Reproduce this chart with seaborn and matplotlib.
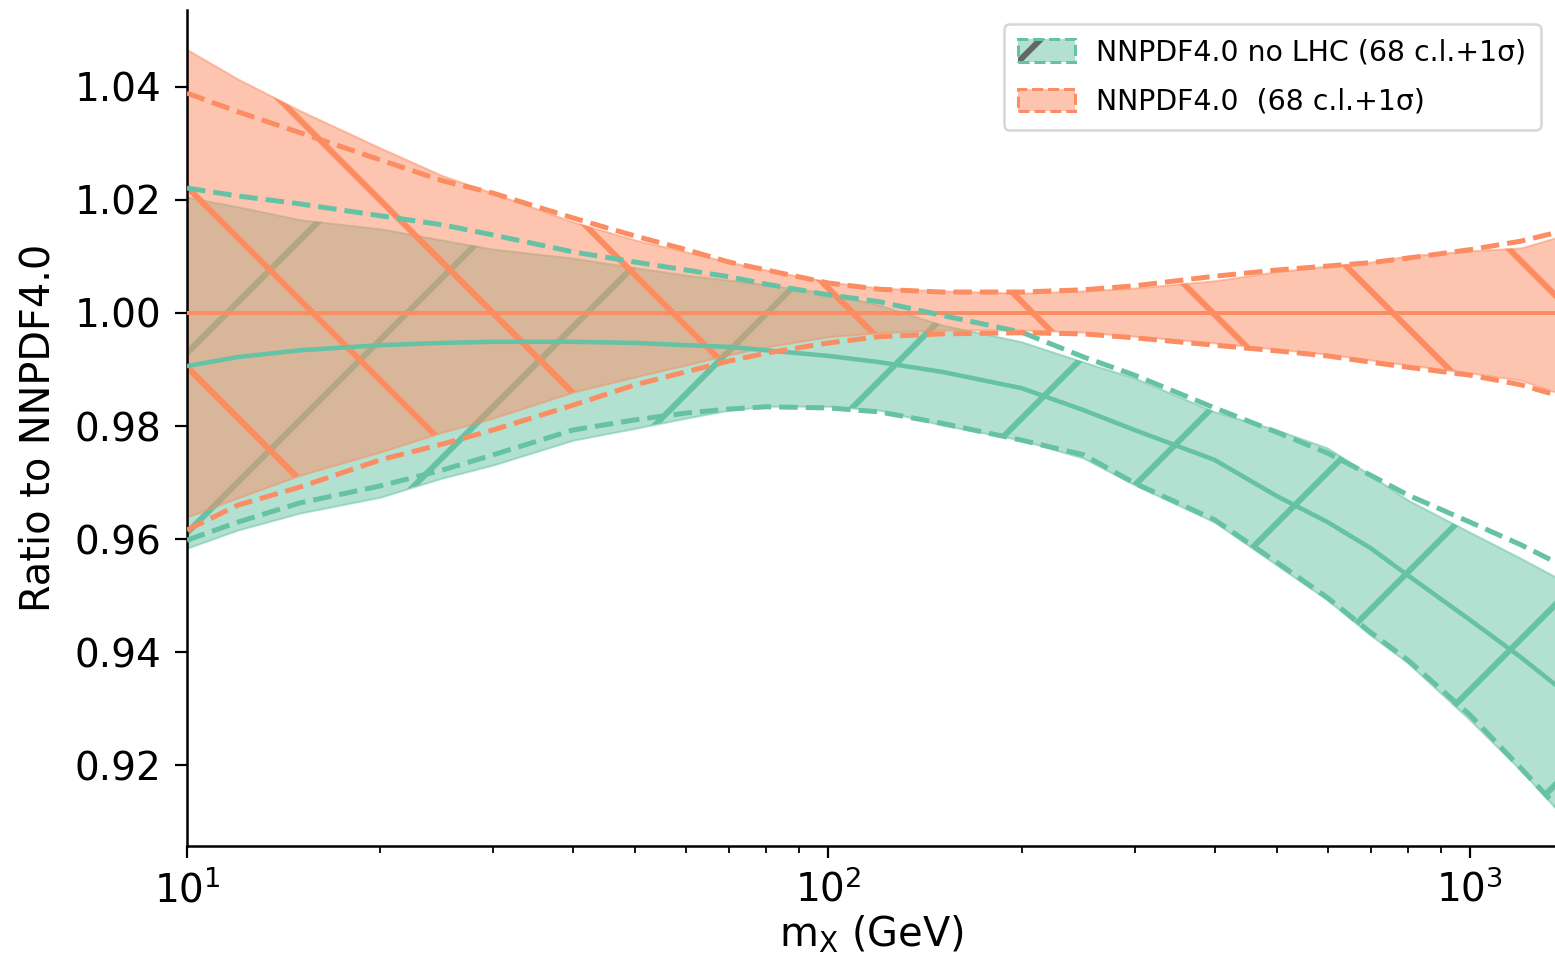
import numpy as np
import pandas as pd
import matplotlib
matplotlib.use("Agg")
import matplotlib.pyplot as plt
from matplotlib.patches import Patch
from matplotlib.legend_handler import HandlerTuple
import seaborn as sns

# ---------------- data ----------------
mx = [10, 12, 15, 20, 25, 30, 40, 50, 60, 70, 80, 100, 120, 150, 200,
      250, 300, 400, 500, 600, 700, 800, 1000, 1200, 1360]

# NNPDF4.0 (normalisation set)
ref_central = [1.0000, 1.0000, 1.0000, 1.0000, 1.0000, 1.0000, 1.0000, 1.0000, 1.0000,
               1.0000, 1.0000, 1.0000, 1.0000, 1.0000, 1.0000, 1.0000, 1.0000, 1.0000,
               1.0000, 1.0000, 1.0000, 1.0000, 1.0000, 1.0000, 1.0000]
ref_up68 = [1.0466, 1.0414, 1.0358, 1.0292, 1.0243, 1.0212, 1.0161, 1.0129, 1.0108,
            1.0090, 1.0076, 1.0055, 1.0044, 1.0039, 1.0035, 1.0039, 1.0044, 1.0057,
            1.0073, 1.0083, 1.0090, 1.0101, 1.0110, 1.0115, 1.0133]
ref_lo68 = [0.9639, 0.9673, 0.9713, 0.9754, 0.9789, 0.9814, 0.9860, 0.9887, 0.9908,
            0.9926, 0.9940, 0.9958, 0.9965, 0.9970, 0.9970, 0.9966, 0.9959, 0.9947,
            0.9936, 0.9927, 0.9917, 0.9908, 0.9894, 0.9881, 0.9860]
ref_up1s = [1.0389, 1.0356, 1.0319, 1.0271, 1.0234, 1.0212, 1.0168, 1.0136, 1.0112,
            1.0090, 1.0076, 1.0053, 1.0042, 1.0037, 1.0037, 1.0041, 1.0048, 1.0065,
            1.0076, 1.0083, 1.0089, 1.0097, 1.0112, 1.0127, 1.0142]
ref_lo1s = [0.9616, 0.9660, 0.9692, 0.9740, 0.9768, 0.9793, 0.9837, 0.9873, 0.9896,
            0.9915, 0.9929, 0.9947, 0.9958, 0.9963, 0.9965, 0.9963, 0.9956, 0.9943,
            0.9933, 0.9924, 0.9913, 0.9904, 0.9890, 0.9873, 0.9855]

# NNPDF4.0 no LHC
nolhc_central = [0.9906, 0.9922, 0.9934, 0.9943, 0.9947, 0.9949, 0.9949, 0.9947, 0.9943,
                 0.9940, 0.9934, 0.9924, 0.9913, 0.9896, 0.9867, 0.9828, 0.9793, 0.9740,
                 0.9676, 0.9630, 0.9584, 0.9536, 0.9457, 0.9391, 0.9342]
nolhc_up68 = [1.0205, 1.0188, 1.0165, 1.0149, 1.0129, 1.0113, 1.0097, 1.0080, 1.0067,
              1.0058, 1.0050, 1.0035, 1.0014, 0.9979, 0.9949, 0.9913, 0.9885, 0.9825,
              0.9793, 0.9761, 0.9713, 0.9669, 0.9612, 0.9566, 0.9533]
nolhc_lo68 = [0.9584, 0.9616, 0.9646, 0.9674, 0.9708, 0.9731, 0.9775, 0.9796, 0.9814,
              0.9828, 0.9835, 0.9835, 0.9828, 0.9802, 0.9775, 0.9743, 0.9696, 0.9630,
              0.9554, 0.9492, 0.9430, 0.9381, 0.9280, 0.9191, 0.9124]
nolhc_up1s = [1.0221, 1.0207, 1.0193, 1.0172, 1.0156, 1.0138, 1.0108, 1.0090, 1.0076,
              1.0064, 1.0051, 1.0032, 1.0020, 0.9996, 0.9966, 0.9922, 0.9890, 0.9832,
              0.9789, 0.9752, 0.9713, 0.9678, 0.9630, 0.9590, 0.9559]
nolhc_lo1s = [0.9598, 0.9630, 0.9664, 0.9694, 0.9722, 0.9749, 0.9793, 0.9811, 0.9823,
              0.9830, 0.9834, 0.9832, 0.9825, 0.9805, 0.9775, 0.9749, 0.9699, 0.9634,
              0.9559, 0.9496, 0.9435, 0.9386, 0.9289, 0.9195, 0.9129]

yticks = [0.92, 0.94, 0.96, 0.98, 1.00, 1.02, 1.04]
labels = ["NNPDF4.0 no LHC (68 c.l.+1σ)", "NNPDF4.0  (68 c.l.+1σ)"]

# ---------------- styling ----------------
DPI = 1080
W, H = 1555, 965


def pt(px):
    return px * 72.0 / DPI


GREEN = "#66c2a5"
ORANGE = "#fc8d62"

sns.set_theme(style="ticks")
plt.rcParams.update({
    "font.family": ["DejaVu Sans"],
    "text.color": "black",
    "axes.labelcolor": "black",
    "axes.edgecolor": "black",
    "xtick.color": "black",
    "ytick.color": "black",
    "axes.linewidth": pt(2.5),
    "xtick.major.size": pt(12),
    "ytick.major.size": pt(12),
    "xtick.minor.size": pt(7),
    "xtick.major.width": pt(2.2),
    "ytick.major.width": pt(2.2),
    "xtick.minor.width": pt(1.8),
    "xtick.major.pad": pt(12),
    "ytick.major.pad": pt(14),
    "xtick.labelsize": pt(39),
    "ytick.labelsize": pt(39),
    "axes.labelsize": pt(40),
    "hatch.linewidth": pt(6),
    "lines.dash_capstyle": "butt",
})

fig = plt.figure(figsize=(W / DPI, H / DPI), dpi=DPI)
ax = fig.add_axes([187 / W, (H - 846) / H, (W - 187) / W, (846 - 10) / H])
ax.set_xscale("log")

# bands: no-LHC first (underneath), then NNPDF4.0 on top
ax.fill_between(mx, nolhc_lo68, nolhc_up68, facecolor=GREEN, edgecolor=GREEN,
                alpha=0.5, lw=pt(2), zorder=1)
ax.fill_between(mx, nolhc_lo68, nolhc_up68, facecolor="none", edgecolor=GREEN,
                hatch="//", lw=0, zorder=1.1)
ax.fill_between(mx, ref_lo68, ref_up68, facecolor=ORANGE, edgecolor=ORANGE,
                alpha=0.5, lw=pt(2), zorder=2)
ax.fill_between(mx, ref_lo68, ref_up68, facecolor="none", edgecolor=ORANGE,
                hatch="\\\\", lw=0, zorder=2.1)

# central values and 1-sigma lines
sns.lineplot(x=mx, y=ref_central, color=ORANGE, lw=pt(4), ax=ax, zorder=5)
sns.lineplot(x=mx, y=nolhc_central, color=GREEN, lw=pt(4.5), ax=ax, zorder=5)
for arr in (nolhc_up1s, nolhc_lo1s):
    sns.lineplot(x=mx, y=arr, color=GREEN, lw=pt(5), linestyle="--", ax=ax, zorder=6)
for arr in (ref_up1s, ref_lo1s):
    sns.lineplot(x=mx, y=arr, color=ORANGE, lw=pt(5), linestyle="--", ax=ax, zorder=6)

ax.set_xlim(10, 1357)
ax.set_ylim(0.9057, 1.0536)
ax.set_yticks(yticks)
ax.set_yticklabels([f"{v:.2f}" for v in yticks])
ax.set_xlabel(r"m$_{\mathrm{X}}$ (GeV)", labelpad=pt(4))
ax.set_ylabel("Ratio to NNPDF4.0", labelpad=pt(16))
sns.despine(ax=ax)

# legend
green_fill = Patch(facecolor=(0.4, 0.761, 0.647, 0.5), edgecolor="none")
green_hatch = Patch(facecolor="none", edgecolor="0.4", hatch="//", lw=0)
green_edge = Patch(facecolor="none", edgecolor=GREEN, ls="--", lw=pt(3))
orange_fill = Patch(facecolor=(0.988, 0.553, 0.384, 0.5), edgecolor="none")
orange_edge = Patch(facecolor="none", edgecolor=ORANGE, ls="--", lw=pt(3))
leg = ax.legend([(green_fill, green_hatch, green_edge), (orange_fill, orange_edge)],
                labels, loc="upper right", fontsize=pt(28.5),
                handler_map={tuple: HandlerTuple(ndivide=1, pad=0)},
                frameon=True, fancybox=True, framealpha=0.8,
                borderaxespad=0.5, labelspacing=0.75, handleheight=0.85,
                handletextpad=0.75, borderpad=0.5)
leg.get_frame().set_linewidth(pt(2.5))
leg.get_frame().set_edgecolor("0.8")
leg.set_zorder(10)

fig.savefig("out.png", dpi=DPI)
